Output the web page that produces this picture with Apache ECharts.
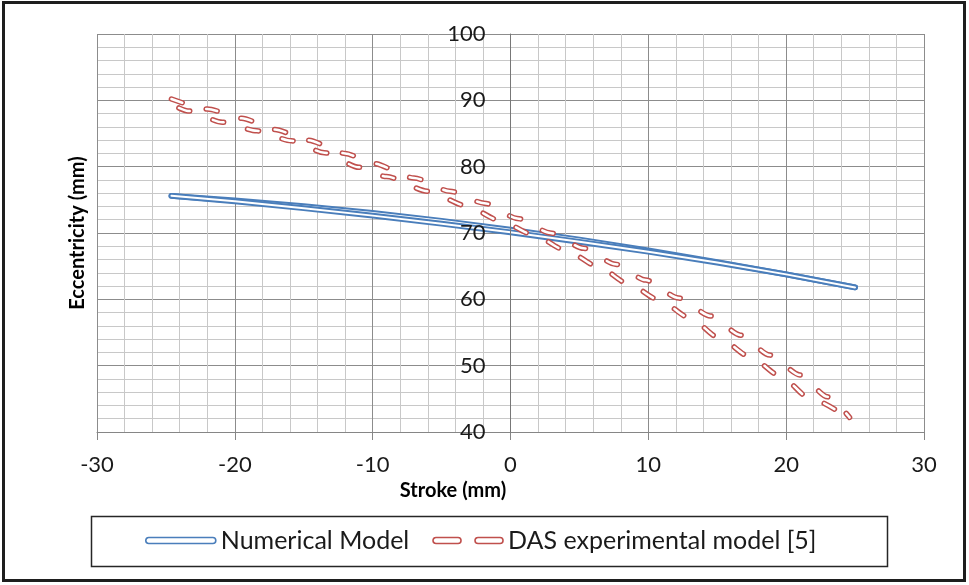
<!DOCTYPE html>
<html><head><meta charset="utf-8">
<script src="https://cdn.jsdelivr.net/npm/echarts@6/dist/echarts.min.js"></script>
<style>html,body{margin:0;padding:0;background:#fff}#c{width:969px;height:585px}</style>
</head><body><div id="c"></div>
<script>
// Numerical Model loop (two branches)
const numOutStroke = [-24.6, -20, -15, -10, -5, 0, 5, 10, 15, 20, 25.0];
const numOutEcc    = [75.6, 74.9, 74.04, 73.02, 71.83, 70.5, 69.02, 67.38, 65.63, 63.76, 61.8];
const numBackStroke = [25.0, 20, 15, 10, 5, 0, -5, -10, -15, -20, -24.6];
const numBackEcc    = [61.8, 63.76, 65.55, 67.18, 68.68, 70.1, 71.41, 72.62, 73.74, 74.78, 75.6];
// DAS experimental model loop (two branches)
const dasOutStroke = [-24.6, -22.0, -19.5, -17.1, -14.7, -12, -10, -7, -4.4, -1.9, 0.5, 2.9, 5.3, 7.6, 9.8, 12.2, 14.5, 16.7, 18.8, 21.0, 23.0, 24.6];
const dasOutEcc    = [90.2, 88.7, 87.3, 85.6, 84.0, 82.0, 80.5, 78.3, 76.3, 74.5, 72.2, 70.0, 67.7, 65.3, 62.9, 60.2, 57.5, 54.6, 51.6, 48.6, 45.3, 42.2];
const dasBackStroke = [24.6, 21.7, 19.6, 17.4, 15.2, 13.0, 10.8, 8.5, 6.4, 4.0, 1.6, -0.8, -3.2, -6, -9, -11, -13.5, -15.9, -18.4, -20.9, -23.4, -24.6];
const dasBackEcc    = [42.0, 45.1, 48.4, 51.3, 54.1, 57.2, 59.9, 62.4, 64.9, 67.4, 69.8, 71.9, 74.1, 76.3, 78.5, 79.9, 82.1, 83.9, 85.4, 86.7, 88.4, 89.4];

const seriesNames = ['Numerical Model', 'DAS experimental model [5]'];
const xMin = -30, xMax = 30, xStep = 10;
const yMin = 40, yMax = 100, yStep = 10;

const BLUE = '#4A7EBB', RED = '#C0504D';
const FONT = 'Lato';
const GRID_LEFT = 97;

function pairs(xs, ys) { return xs.map((x, i) => [x, ys[i]]); }
function lineSeries(name, data, color, width, smooth, dash, dashOffset) {
  return {
    type: 'line', name: name, data: data, showSymbol: false, symbol: 'none',
    smooth: smooth, smoothMonotone: 'x', silent: true,
    itemStyle: { color: color },
    lineStyle: { color: color, width: width, type: dash || 'solid', dashOffset: dashOffset || 0, cap: 'round', join: 'round' }
  };
}
const dash = [11.5, 24.5];
const series = [
  lineSeries(seriesNames[0], pairs(numOutStroke, numOutEcc), BLUE, 5.8, false),
  lineSeries('_nw1', pairs(numOutStroke, numOutEcc), '#ffffff', 2, false),
  lineSeries(seriesNames[0], pairs(numBackStroke, numBackEcc), BLUE, 5.8, false),
  lineSeries('_nw2', pairs(numBackStroke, numBackEcc), '#ffffff', 2, false),
  lineSeries(seriesNames[1], pairs(dasOutStroke, dasOutEcc), RED, 5.5, 0.25, dash, 0),
  lineSeries('_dw1', pairs(dasOutStroke, dasOutEcc), '#ffffff', 2.5, 0.25, dash, 0),
  lineSeries(seriesNames[1], pairs(dasBackStroke, dasBackEcc), RED, 5.5, 0.25, dash, 18),
  lineSeries('_dw2', pairs(dasBackStroke, dasBackEcc), '#ffffff', 2.5, 0.25, dash, 18)
];

const chart = echarts.init(document.getElementById('c'), null, { renderer: 'canvas' });
chart.setOption({
  animation: false,
  backgroundColor: '#ffffff',
  grid: { left: GRID_LEFT, right: 45, top: 34, bottom: 153, containLabel: false },
  xAxis: {
    type: 'value', min: xMin, max: xMax, interval: xStep,
    axisLine: { show: true, onZero: false, lineStyle: { color: '#868686', width: 1 } },
    axisTick: { show: true, length: 8, inside: false, lineStyle: { color: '#868686' } },
    axisLabel: { margin: 22, fontSize: 22, fontFamily: FONT, color: '#1a1a1a' },
    splitLine: { show: true, lineStyle: { color: '#8c8c8c', width: 1 } },
    minorTick: { show: false, splitNumber: 5 },
    minorSplitLine: { show: true, lineStyle: { color: '#c8c8c8', width: 1 } },
    name: 'Stroke (mm)', nameLocation: 'middle', nameGap: 48,
    nameTextStyle: { fontFamily: FONT, fontWeight: 'bold', fontSize: 20, color: '#000', padding: [0, 115, 0, 0] }
  },
  yAxis: [{
    type: 'value', min: yMin, max: yMax, interval: yStep, position: 'left', z: 10, offset: 0,
    axisLine: { show: true, onZero: false, lineStyle: { color: '#777777', width: 1 } },
    axisTick: { show: false },
    axisLabel: { margin: 25, fontSize: 22, fontFamily: FONT, color: '#1a1a1a' },
    splitLine: { show: false }
  }, {
    type: 'value', min: yMin, max: yMax, interval: yStep, position: 'left',
    axisLine: { show: false, onZero: false },
    axisTick: { show: false },
    axisLabel: { show: false },
    splitLine: { show: true, lineStyle: { color: '#8c8c8c', width: 1 } },
    minorTick: { show: false, splitNumber: 5 },
    minorSplitLine: { show: true, lineStyle: { color: '#c8c8c8', width: 1 } },
    name: 'Eccentricity (mm)', nameLocation: 'middle', nameGap: 9,
    nameTextStyle: { fontFamily: FONT, fontWeight: 'bold', fontSize: 20, color: '#000' }
  }],
  legend: {
    left: 145, top: 528, padding: 0, itemGap: 23, itemWidth: 70, itemHeight: 6,
    textStyle: { fontFamily: FONT, fontSize: 25, color: '#1a1a1a' },
    data: [
      { name: seriesNames[0], icon: 'path://M3,0 H67 A3,3 0 0 1 67,6 H3 A3,3 0 0 1 3,0 Z',
        itemStyle: { color: '#ffffff', borderColor: BLUE, borderWidth: 1.6 } },
      { name: seriesNames[1], icon: 'path://M3,0 H25 A3,3 0 0 1 25,6 H3 A3,3 0 0 1 3,0 Z M45,0 H67 A3,3 0 0 1 67,6 H45 A3,3 0 0 1 45,0 Z',
        itemStyle: { color: '#ffffff', borderColor: RED, borderWidth: 1.6 } }
    ]
  },
  graphic: [
    { type: 'rect', z: -10, shape: { x: 3.5, y: 2.5, width: 961, height: 578 }, style: { fill: 'none', stroke: '#1e1e1e', lineWidth: 3 } },
    { type: 'rect', z: -10, shape: { x: 91.5, y: 516.5, width: 796, height: 50 }, style: { fill: 'none', stroke: '#262626', lineWidth: 1.5 } }
  ],
  series: series
});
// move the labelled y axis to cross at stroke = 0 (Excel "vertical axis crosses at 0")
const zeroPx = chart.convertToPixel({ xAxisIndex: 0 }, 0);
chart.setOption({ yAxis: [{ offset: GRID_LEFT - zeroPx }, {}] });
</script></body></html>
